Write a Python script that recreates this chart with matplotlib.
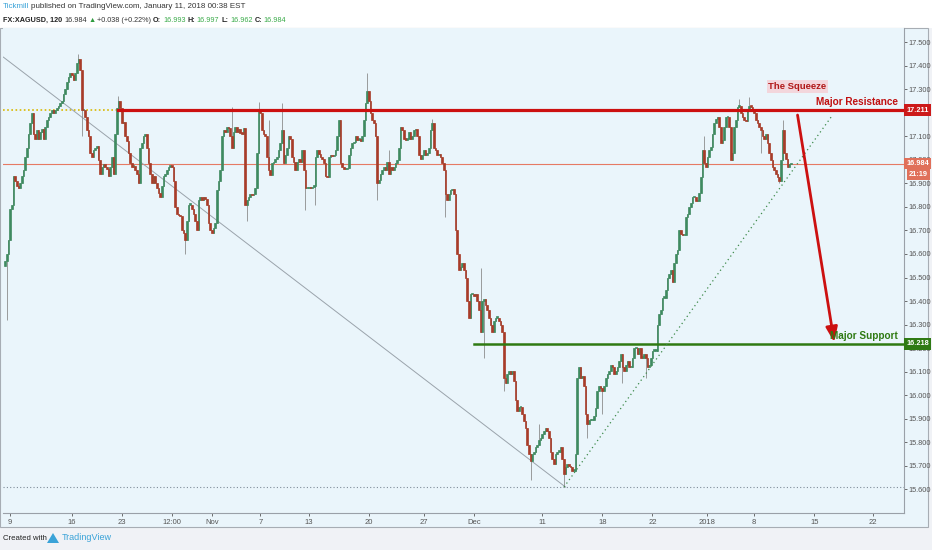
import matplotlib
matplotlib.use('Agg')
import matplotlib.pyplot as plt
from matplotlib.patches import Rectangle
import numpy as np

plt.rcParams['font.family'] = ['Liberation Sans Narrow', 'Liberation Sans', 'DejaVu Sans']

# 120-min XAGUSD closes left to right
closes = [
    # Oct 9 -> late Oct
    16.57, 16.60, 16.66, 16.79, 16.81, 16.93, 16.91, 16.89, 16.88, 16.90,
    16.93, 16.955, 17.01, 17.05, 17.11, 17.155, 17.20, 17.11, 17.09, 17.125,
    17.09, 17.12, 17.13, 17.09, 17.14, 17.17, 17.18, 17.20, 17.21, 17.20,
    17.21, 17.22, 17.23, 17.24, 17.25, 17.28, 17.30, 17.33, 17.35, 17.37,
    17.36, 17.34, 17.37, 17.41, 17.43, 17.38, 17.21, 17.21, 17.18, 17.125,
    17.10, 17.03, 17.01, 17.04, 17.05, 17.06, 17.00, 16.94, 16.97, 16.98,
    16.97, 16.96, 16.93, 16.97, 17.01, 16.94, 17.11, 17.22, 17.25, 17.22,
    17.155, 17.16, 17.10, 17.08, 17.03, 16.985, 16.97, 16.975, 16.955, 16.94,
    16.90, 17.05, 17.07, 17.10, 17.11, 17.05, 16.985, 16.94, 16.90, 16.93,
    16.90, 16.88, 16.86, 16.84, 16.89, 16.93, 16.94, 16.955, 16.97, 16.975,
    16.97, 16.91, 16.80, 16.77, 16.765, 16.76, 16.70, 16.69, 16.66, 16.74,
    16.81,
    # late Oct -> end of Nov
    16.81, 16.79, 16.77, 16.74, 16.70, 16.83, 16.84, 16.83, 16.84, 16.835,
    16.81, 16.73, 16.70, 16.69, 16.71, 16.73, 16.87, 16.91, 16.955, 17.10,
    17.125, 17.12, 17.14, 17.135, 17.10, 17.05, 17.12, 17.14, 17.12, 17.13,
    17.115, 17.11, 17.135, 16.81, 16.83, 16.84, 16.855, 16.85, 16.855, 16.88,
    17.03, 17.21, 17.20, 17.125, 17.11, 17.10, 17.01, 16.955, 16.935, 16.985,
    16.99, 17.005, 17.01, 17.04, 17.07, 17.125, 16.985, 17.02, 17.05, 17.10,
    17.09, 17.01, 16.99, 16.955, 16.99, 17.005, 16.99, 17.04, 16.955, 16.88,
    16.88, 16.885, 16.88, 16.885, 16.89, 17.01, 17.04, 17.025, 17.01, 17.005,
    16.985, 16.93, 16.925, 17.01, 17.02, 17.015, 17.02, 17.04, 17.10, 17.17,
    16.985, 16.97, 16.96, 16.96, 16.965, 17.02, 17.05, 17.07, 17.075, 17.10,
    17.085, 17.09, 17.08, 17.10, 17.17, 17.24, 17.29, 17.25, 17.20, 17.17,
    17.155, 17.10, 16.90, 16.915, 16.94, 16.955, 16.97, 16.955, 16.99, 16.94,
    16.97, 16.955, 16.97, 16.985, 17.00, 17.05, 17.14, 17.125, 17.09, 17.085,
    17.09, 17.12, 17.09, 17.10, 17.125, 17.13, 17.10, 17.02, 17.005, 17.02,
    17.04, 17.02, 17.03, 17.05, 17.125, 17.155, 17.05, 17.04, 17.02, 17.025,
    17.01, 16.985, 16.955, 16.855, 16.83,
    # Dec sell-off
    16.855, 16.87, 16.875, 16.855, 16.70, 16.60, 16.53, 16.545, 16.56, 16.53,
    16.50, 16.40, 16.33, 16.43, 16.43, 16.42, 16.43, 16.40, 16.36, 16.27,
    16.40, 16.41, 16.385, 16.36, 16.33, 16.30, 16.27, 16.315, 16.33, 16.33,
    16.315, 16.30, 16.27, 16.075, 16.05, 16.09, 16.105, 16.09, 16.105, 16.06,
    15.98, 15.935, 15.95, 15.95, 15.92, 15.89, 15.86, 15.79, 15.75, 15.72,
    15.75, 15.76, 15.78, 15.79, 15.81, 15.82, 15.835, 15.85, 15.86, 15.85,
    15.82, 15.76, 15.73, 15.71, 15.75, 15.76, 15.76, 15.78, 15.73, 15.665,
    15.695, 15.71, 15.70, 15.695, 15.68, 15.68, 15.75, 16.075, 16.12,
    # mid Dec -> Jan 11 rally
    16.075, 16.08, 16.04, 15.92, 15.88, 15.895, 15.895, 15.895, 15.91, 15.945,
    16.02, 16.04, 16.03, 16.02, 16.04, 16.075, 16.09, 16.105, 16.13, 16.12,
    16.09, 16.105, 16.12, 16.145, 16.175, 16.12, 16.105, 16.13, 16.145, 16.12,
    16.12, 16.16, 16.20, 16.20, 16.175, 16.20, 16.16, 16.16, 16.175, 16.16,
    16.12, 16.13, 16.16, 16.19, 16.19, 16.19, 16.30, 16.345, 16.36, 16.415,
    16.415, 16.445, 16.50, 16.515, 16.53, 16.48, 16.56, 16.60, 16.615, 16.70,
    16.685, 16.68, 16.68, 16.755, 16.77, 16.80, 16.815, 16.84, 16.84, 16.825,
    16.825, 16.86, 16.925, 17.04, 16.985, 16.97, 17.01, 17.04, 17.055, 17.11,
    17.155, 17.175, 17.18, 17.14, 17.07, 17.085, 17.14, 17.18, 17.18, 17.14,
    17.00, 17.03, 17.14, 17.17, 17.225, 17.23, 17.20, 17.18, 17.17, 17.165,
    17.21, 17.23, 17.225, 17.21, 17.20, 17.17, 17.155, 17.14, 17.125, 17.10,
    17.09, 17.11, 17.07, 17.03, 17.00, 16.97, 16.955, 16.94, 16.925, 16.91,
    17.00, 17.125, 17.03, 17.005, 16.97, 16.98, 16.984,
]
first_open = 16.55

# long wicks that stick out of the bodies (bar index, price)
spike_highs = [(44, 17.45), (68, 17.27), (136, 17.225), (152, 17.245),
               (158, 17.17), (166, 17.24), (217, 17.37), (230, 17.04),
               (256, 17.175), (285, 16.54), (320, 15.88), (419, 17.10),
               (440, 17.26), (446, 17.265), (466, 17.17)]
spike_lows = [(1, 16.32), (46, 17.10), (108, 16.60), (145, 16.74),
              (180, 16.785), (186, 16.81), (223, 16.83), (264, 16.755),
              (287, 16.16), (299, 16.02), (315, 15.64), (335, 15.61),
              (349, 15.82), (358, 15.92), (370, 16.05), (384, 16.075),
              (453, 17.03), (464, 16.90)]

price_ticks = [15.6, 15.7, 15.8, 15.9, 16.0, 16.1, 16.2, 16.3, 16.4, 16.5,
               16.6, 16.7, 16.8, 16.9, 17.0, 17.1, 17.2, 17.3, 17.4, 17.5]
date_pos = [3, 40, 70, 100, 124, 153, 182, 218, 251, 281, 322, 358, 388,
            421, 449, 485, 520]
date_labels = ['9', '16', '23', '12:00', 'Nov', '7', '13', '20', '27', 'Dec',
               '11', '18', '22', '2018', '8', '15', '22']

resistance = 17.211
support = 16.218
last_price = 16.984
bottom_level = 15.61
# drawn trend lines: (bar, price) endpoints
down_trend = [(-1, 17.436), (336, 15.61)]
up_trend = [(335, 15.61), (496, 17.19)]
arrow_from = (475, 17.19)
arrow_to = (497, 16.225)

closes = np.array(closes)
opens = np.concatenate([[first_open], closes[:-1]])
highs = np.maximum(opens, closes)
lows = np.minimum(opens, closes)
for i, v in spike_highs:
    highs[i] = max(highs[i], v)
for i, v in spike_lows:
    lows[i] = min(lows[i], v)
idx = np.arange(len(closes))

BG = '#eaf5fb'
UP = '#3f8a60'
DOWN = '#a83c29'


def px(x, y):
    return x / 932, 1 - y / 550


fig = plt.figure(figsize=(9.32, 5.5), dpi=100)
fig.patch.set_facecolor('#f0f2f6')
fig.patches.append(Rectangle((0, 1 - 28 / 550), 1, 28 / 550, transform=fig.transFigure,
                             facecolor='#ffffff', edgecolor='none', zorder=-10))
fig.patches.append(Rectangle(px(0, 527), 928 / 932, 499 / 550, transform=fig.transFigure,
                             facecolor=BG, edgecolor='#a7adb4', linewidth=0.8, zorder=-10))

ax = fig.add_axes([3 / 932, 37 / 550, 901 / 932, 485 / 550])
ax.set_facecolor(BG)
ax.set_xlim(-1.2, 538.8)
ax.set_ylim(15.50, 17.5596)

# reference lines
ax.axhline(last_price, color='#e67a64', lw=0.8, zorder=1)
ax.axhline(bottom_level, color='#7f8c99', lw=0.8, ls=(0, (1, 2)), zorder=1)
ax.axhline(resistance, color='#d8b800', lw=1.2, ls=(0, (1, 1.5)), zorder=1)
ax.plot([d[0] for d in down_trend], [d[1] for d in down_trend],
        color='#9aa3ab', lw=0.7, zorder=1)

# candles
up = closes >= opens
ax.vlines(idx, lows, highs, color='#8c8c8c', lw=0.6, zorder=2)
body_lo = np.minimum(opens, closes)
body_h = np.maximum(np.abs(closes - opens), 0.006)
ax.bar(idx[up], body_h[up], bottom=body_lo[up], width=1.0, color=UP,
       edgecolor=UP, linewidth=0.5, zorder=3)
ax.bar(idx[~up], body_h[~up], bottom=body_lo[~up], width=1.0, color=DOWN,
       edgecolor=DOWN, linewidth=0.5, zorder=3)

# drawings
ax.plot([68, 538.8], [resistance, resistance], color='#cc1010', lw=2.3, zorder=4)
ax.plot([281, 538.8], [support, support], color='#2f7a12', lw=1.8, zorder=4)
ax.plot([u[0] for u in up_trend], [u[1] for u in up_trend],
        color='#3d8a4a', lw=0.9, ls=(0, (1, 2.5)), zorder=4)
ax.annotate('', xy=arrow_to, xytext=arrow_from,
            arrowprops=dict(arrowstyle='-|>,head_length=0.9,head_width=0.35',
                            color='#cc1010', lw=2.0, shrinkA=0, shrinkB=0),
            zorder=5)

ax.text(475, 17.31, 'The Squeeze', ha='center', va='center', fontsize=6.8,
        fontweight='bold', color='#b01818',
        bbox=dict(boxstyle='square,pad=0.2', facecolor='#f3d6dc', edgecolor='none'))
ax.text(535, resistance + 0.012, 'Major Resistance', ha='right', va='bottom',
        fontsize=7.2, fontweight='bold', color='#c01010', zorder=6)
ax.text(535, support + 0.012, 'Major Support', ha='right', va='bottom',
        fontsize=7.2, fontweight='bold', color='#2f7a12', zorder=6)

# price axis on the right
ax.yaxis.tick_right()
ax.set_yticks(price_ticks)
ax.set_yticklabels([f'{p:.3f}' for p in price_ticks])
ax.tick_params(axis='y', labelsize=5.3, colors='#555555', length=2.5, width=0.6, pad=1)
ax.set_xticks(date_pos)
ax.set_xticklabels(date_labels)
ax.tick_params(axis='x', labelsize=5.5, colors='#555555', length=2.5, width=0.6, pad=1.5)
for s in ['top', 'left']:
    ax.spines[s].set_visible(False)
for s in ['right', 'bottom']:
    ax.spines[s].set_color('#9aa0a8')
    ax.spines[s].set_linewidth(0.8)

# price tags on the axis
tags = [(resistance, '17.211', '#cc1a1a'), (last_price, '16.984', '#e0705a'),
        (support, '16.218', '#2f7a14')]
for price, label, col in tags:
    ax.annotate(label, xy=(1.0, price), xycoords=('axes fraction', 'data'),
                xytext=(1.5, 0), textcoords='offset points', ha='left', va='center',
                fontsize=5.3, fontweight='bold', color='white', zorder=6,
                bbox=dict(boxstyle='square,pad=0.3', facecolor=col, edgecolor='none'),
                annotation_clip=False)
ax.annotate('21:19', xy=(1.0, last_price), xycoords=('axes fraction', 'data'),
            xytext=(3.5, -8), textcoords='offset points', ha='left', va='center',
            fontsize=5.3, fontweight='bold', color='white', zorder=6,
            bbox=dict(boxstyle='square,pad=0.3', facecolor='#e0705a', edgecolor='none'),
            annotation_clip=False)

# header, pieces laid out one after another
renderer = fig.canvas.get_renderer()


def text_row(x0, y, pieces, size, gap):
    x = x0
    for t, c, w in pieces:
        tx = fig.text(*px(x, y), t, fontsize=size, color=c, fontweight=w, va='center')
        x += tx.get_window_extent(renderer).width + gap


text_row(3, 7, [('Tickmill', '#3aa3d8', 'normal'),
                ('published on TradingView.com, January 11, 2018 00:38 EST', '#333333', 'normal')],
         5.8, 2)
text_row(3, 20, [('FX:XAGUSD, 120', '#222222', 'bold'), ('16.984', '#333333', 'normal'),
                 ('▲', '#2e9b3e', 'normal'), ('+0.038 (+0.22%)', '#333333', 'normal'),
                 ('O:', '#222222', 'bold'), ('16.993', '#3bab4a', 'normal'),
                 ('H:', '#222222', 'bold'), ('16.997', '#3bab4a', 'normal'),
                 ('L:', '#222222', 'bold'), ('16.962', '#3bab4a', 'normal'),
                 ('C:', '#222222', 'bold'), ('16.984', '#3bab4a', 'normal')], 5.2, 1.8)

# footer
fig.text(*px(3, 538), 'Created with', fontsize=5.6, color='#222222', va='center')
fig.text(*px(62, 538), 'TradingView', fontsize=6.5, color='#3aa3d8', va='center')
fig.patches.append(plt.Polygon([px(47, 543), px(53, 533), px(59, 543)],
                               closed=True, transform=fig.transFigure,
                               facecolor='#3aa3d8', edgecolor='none'))

fig.savefig('out.png', dpi=100, facecolor=fig.get_facecolor())
